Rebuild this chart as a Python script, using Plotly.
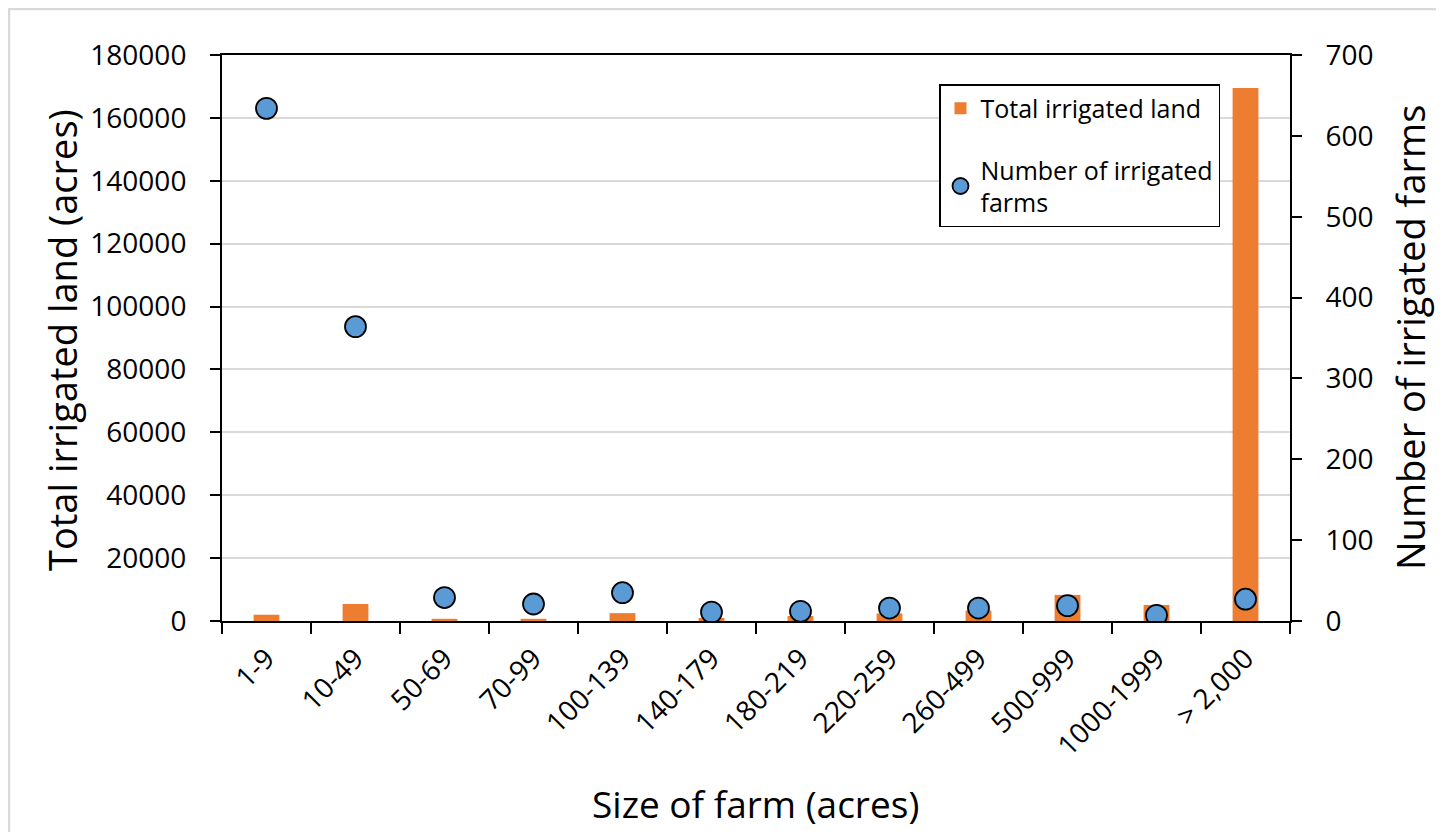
import plotly.graph_objects as go

categories = ["1-9", "10-49", "50-69", "70-99", "100-139", "140-179", "180-219",
              "220-259", "260-499", "500-999", "1000-1999", "> 2,000"]
irrigated_land = [2000, 5400, 700, 700, 2500, 1000, 1600, 2400, 3300, 8300, 5100, 169500]
irrigated_farms = [634, 364, 29, 21, 35, 11, 12, 16, 16, 19, 7, 27]

FONT = "Open Sans"
W, H = 1444, 832
OFF = 8  # page body margin
L, R, T, B = 222, 1290, 55, 621  # plot area in page coordinates
pw, ph = R - L, B - T


def px(x):
    return (x - L) / pw


def py(y):
    return (B - y) / ph


fig = go.Figure()
fig.add_trace(go.Bar(
    x=categories, y=irrigated_land, name="Total irrigated land",
    marker=dict(color="#ED7D31", line=dict(width=0)), width=0.29,
    legendgroup="a", yaxis="y",
))
fig.add_trace(go.Scatter(
    x=categories, y=irrigated_farms, name="Number of irrigated<br>farms",
    mode="markers", marker=dict(color="#5B9BD5", size=21, line=dict(color="black", width=1.8)),
    legendgroup="b", yaxis="y2",
))

fig.update_layout(
    width=W, height=H,
    margin=dict(l=L - OFF, r=W - (R - OFF), t=T - OFF, b=H - (B - OFF), autoexpand=False),
    paper_bgcolor="white", plot_bgcolor="white",
    font=dict(family=FONT, size=28, color="black"),
    showlegend=True,
    legend=dict(
        x=px(939), y=py(84), xanchor="left", yanchor="top",
        bgcolor="white", bordercolor="black", borderwidth=1.5,
        font=dict(size=25, family=FONT), traceorder="grouped", tracegroupgap=26,
        itemwidth=30,
    ),
    xaxis=dict(
        type="category", range=[-0.5, len(categories) - 0.5], autorange=False,
        showline=True, linecolor="black", linewidth=2, mirror=True,
        ticks="outside", ticklen=11, tickwidth=2, tickcolor="black", tickson="boundaries",
        tickangle=-45, showgrid=False, ticklabelstandoff=8,
        tickfont=dict(size=28, family=FONT),
    ),
    yaxis=dict(
        range=[0, 180000], dtick=20000, showline=True, linecolor="black", linewidth=2,
        ticks="outside", ticklen=10, tickwidth=2, tickcolor="black",
        showgrid=True, gridcolor="#d9d9d9", gridwidth=1.5, zeroline=False,
        tickformat="d", ticklabelstandoff=18, tickfont=dict(size=28, family=FONT),
    ),
    yaxis2=dict(
        range=[0, 700], dtick=100, overlaying="y", side="right",
        showline=True, linecolor="black", linewidth=2,
        ticks="outside", ticklen=10, tickwidth=2, tickcolor="black",
        showgrid=False, zeroline=False, ticklabelstandoff=18,
        tickfont=dict(size=28, family=FONT),
    ),
    annotations=[
        dict(text="Total irrigated land (acres)", xref="paper", yref="paper",
             x=px(62), y=py(340), textangle=-90, showarrow=False,
             font=dict(size=38, family=FONT), xanchor="center", yanchor="middle"),
        dict(text="Number of irrigated farms", xref="paper", yref="paper",
             x=px(1410), y=py(338), textangle=-90, showarrow=False,
             font=dict(size=38, family=FONT), xanchor="center", yanchor="middle"),
        dict(text="Size of farm (acres)", xref="paper", yref="paper",
             x=px(755), y=py(803), showarrow=False,
             font=dict(size=37, family=FONT), xanchor="center", yanchor="middle"),
    ],
    shapes=[
        dict(type="rect", xref="paper", yref="paper",
             x0=px(OFF + 1), x1=px(1440), y0=py(880), y1=py(OFF + 1),
             line=dict(color="#d9d9d9", width=2.5), fillcolor="rgba(0,0,0,0)", layer="below"),
    ],
)

fig.write_html("out.html")
